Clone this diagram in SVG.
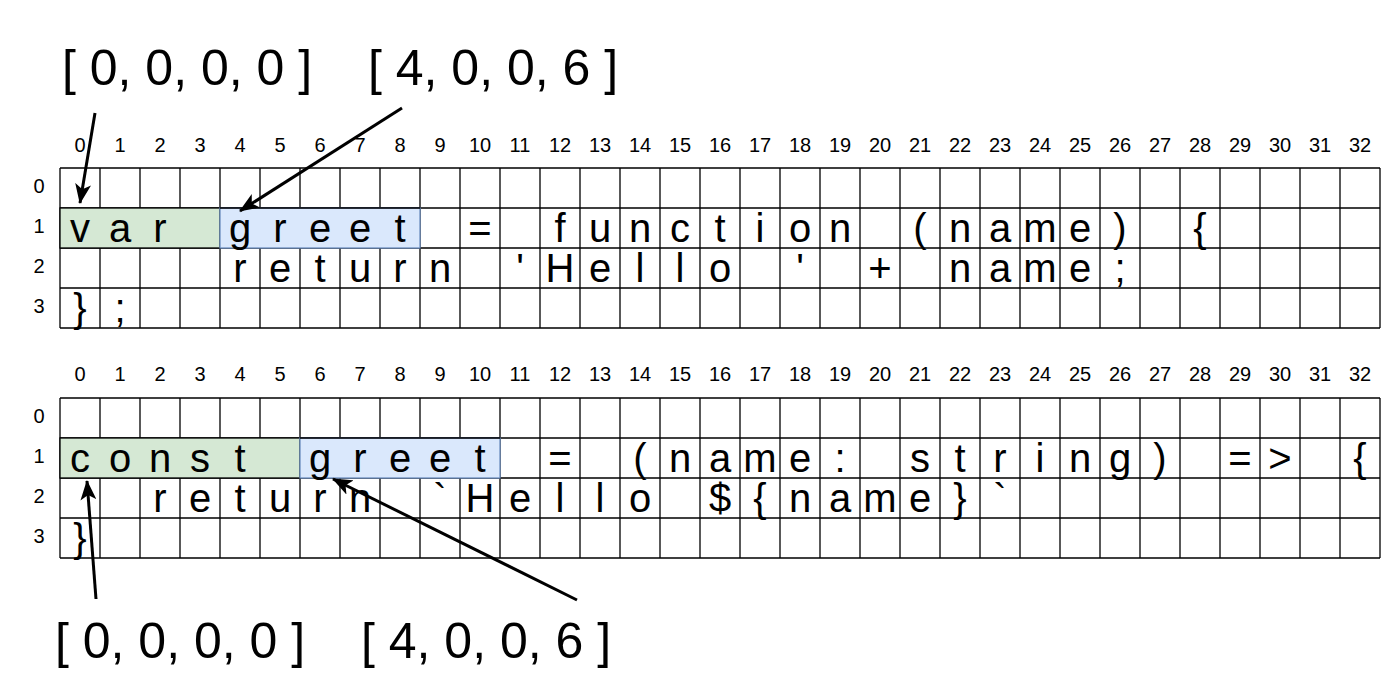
<svg xmlns="http://www.w3.org/2000/svg" width="1400" height="693" viewBox="0 0 1400 693">
<style>
.bg{fill:#fff}
.g{stroke:#000;stroke-width:1.3;fill:none}
.hl-green{fill:#d5e8d4;stroke:#000;stroke-width:1.3}
.hl-blue{fill:#dae8fc;stroke:#6c8ebf;stroke-width:1.3}
.code{font-family:"Liberation Sans",Arial,sans-serif;font-size:40px;fill:#000;text-anchor:middle}
.idx{font-family:"Liberation Sans",Arial,sans-serif;font-size:20px;fill:#000;text-anchor:middle}
.big{font-family:"Liberation Sans",Arial,sans-serif;font-size:50px;fill:#000}
.conn{stroke:#000;stroke-width:3;fill:none;marker-end:url(#arr)}
</style>
<defs>
<marker id="arr" viewBox="0 0 20 16" refX="19" refY="8" markerWidth="20" markerHeight="16" markerUnits="userSpaceOnUse" orient="auto">
<path d="M0,0 L20,8 L0,16 L5,8 z" fill="#000"/>
</marker>
</defs>
<rect class="bg" x="0" y="0" width="1400" height="693"/>

<!-- Top grid -->
<g id="grid-top">
<g id="grid-top-lines" class="g">
<path d="M60,168 H1380 M60,208 H1380 M60,248 H1380 M60,288 H1380 M60,328 H1380"/>
<path d="M60,168 V328 M100,168 V328 M140,168 V328 M180,168 V328 M220,168 V328 M260,168 V328 M300,168 V328 M340,168 V328 M380,168 V328 M420,168 V328 M460,168 V328 M500,168 V328 M540,168 V328 M580,168 V328 M620,168 V328 M660,168 V328 M700,168 V328 M740,168 V328 M780,168 V328 M820,168 V328 M860,168 V328 M900,168 V328 M940,168 V328 M980,168 V328 M1020,168 V328 M1060,168 V328 M1100,168 V328 M1140,168 V328 M1180,168 V328 M1220,168 V328 M1260,168 V328 M1300,168 V328 M1340,168 V328 M1380,168 V328"/>
</g>
<rect id="top-var" class="hl-green" x="60" y="208" width="160" height="40"/>
<rect id="top-greet" class="hl-blue" x="220" y="208" width="200" height="40"/>
<path class="g" d="M220,208 H420"/>
<g id="top-col-labels" class="idx">
<text x="80 120 160 200 240 280 320 360 400 440" y="152">0123456789</text>
<text x="480" y="152">10</text><text x="520" y="152">11</text><text x="560" y="152">12</text><text x="600" y="152">13</text><text x="640" y="152">14</text><text x="680" y="152">15</text><text x="720" y="152">16</text><text x="760" y="152">17</text><text x="800" y="152">18</text><text x="840" y="152">19</text><text x="880" y="152">20</text><text x="920" y="152">21</text><text x="960" y="152">22</text><text x="1000" y="152">23</text><text x="1040" y="152">24</text><text x="1080" y="152">25</text><text x="1120" y="152">26</text><text x="1160" y="152">27</text><text x="1200" y="152">28</text><text x="1240" y="152">29</text><text x="1280" y="152">30</text><text x="1320" y="152">31</text><text x="1360" y="152">32</text>
</g>
<g id="top-row-labels" class="idx">
<text x="39" y="193">0</text><text x="39" y="233">1</text><text x="39" y="273">2</text><text x="39" y="313">3</text>
</g>
<g id="top-code" class="code">
<text x="80 120 160" y="242">var</text>
<text x="240 280 320 360 400" y="242">greet</text>
<text x="480" y="242">=</text>
<text x="560 600 640 680 720 760 800 840" y="242">function</text>
<text x="920 960 1000 1040 1080 1120" y="242">(name)</text>
<text x="1200" y="242">{</text>
<text x="240 280 320 360 400 440" y="282">return</text>
<text x="520 560 600 640 680 720" y="282">'Hello</text>
<text x="800" y="282">'</text>
<text x="880" y="282">+</text>
<text x="960 1000 1040 1080 1120" y="282">name;</text>
<text x="80 120" y="322">};</text>
</g>
</g>

<!-- Bottom grid -->
<g id="grid-bottom">
<g id="grid-bottom-lines" class="g">
<path d="M60,398 H1380 M60,438 H1380 M60,478 H1380 M60,518 H1380 M60,558 H1380"/>
<path d="M60,398 V558 M100,398 V558 M140,398 V558 M180,398 V558 M220,398 V558 M260,398 V558 M300,398 V558 M340,398 V558 M380,398 V558 M420,398 V558 M460,398 V558 M500,398 V558 M540,398 V558 M580,398 V558 M620,398 V558 M660,398 V558 M700,398 V558 M740,398 V558 M780,398 V558 M820,398 V558 M860,398 V558 M900,398 V558 M940,398 V558 M980,398 V558 M1020,398 V558 M1060,398 V558 M1100,398 V558 M1140,398 V558 M1180,398 V558 M1220,398 V558 M1260,398 V558 M1300,398 V558 M1340,398 V558 M1380,398 V558"/>
</g>
<rect id="bottom-const" class="hl-green" x="60" y="438" width="240" height="40"/>
<rect id="bottom-greet" class="hl-blue" x="300" y="438" width="200" height="40"/>
<path class="g" d="M300,438 H500"/>
<g id="bottom-col-labels" class="idx">
<text x="80 120 160 200 240 280 320 360 400 440" y="381">0123456789</text>
<text x="480" y="381">10</text><text x="520" y="381">11</text><text x="560" y="381">12</text><text x="600" y="381">13</text><text x="640" y="381">14</text><text x="680" y="381">15</text><text x="720" y="381">16</text><text x="760" y="381">17</text><text x="800" y="381">18</text><text x="840" y="381">19</text><text x="880" y="381">20</text><text x="920" y="381">21</text><text x="960" y="381">22</text><text x="1000" y="381">23</text><text x="1040" y="381">24</text><text x="1080" y="381">25</text><text x="1120" y="381">26</text><text x="1160" y="381">27</text><text x="1200" y="381">28</text><text x="1240" y="381">29</text><text x="1280" y="381">30</text><text x="1320" y="381">31</text><text x="1360" y="381">32</text>
</g>
<g id="bottom-row-labels" class="idx">
<text x="39" y="423">0</text><text x="39" y="463">1</text><text x="39" y="503">2</text><text x="39" y="543">3</text>
</g>
<g id="bottom-code" class="code">
<text x="80 120 160 200 240" y="472">const</text>
<text x="320 360 400 440 480" y="472">greet</text>
<text x="560" y="472">=</text>
<text x="640 680 720 760 800 840" y="472">(name:</text>
<text x="920 960 1000 1040 1080 1120 1160" y="472">string)</text>
<text x="1240 1280" y="472">=&gt;</text>
<text x="1360" y="472">{</text>
<text x="160 200 240 280 320 360" y="512">return</text>
<text x="440 480 520 560 600 640" y="512">`Hello</text>
<text x="720 760 800 840 880 920 960 1000" y="512">${name}`</text>
<text x="80" y="552">}</text>
</g>
</g>

<!-- Labels -->
<g id="label-top-1"><text class="big" x="62" y="85">[ 0, 0, 0, 0 ]</text></g>
<g id="label-top-2"><text class="big" x="368" y="85">[ 4, 0, 0, 6 ]</text></g>
<g id="label-bottom-1"><text class="big" x="55" y="658">[ 0, 0, 0, 0 ]</text></g>
<g id="label-bottom-2"><text class="big" x="361" y="658">[ 4, 0, 0, 6 ]</text></g>

<!-- Connectors -->
<g id="connectors">
<path class="conn" d="M95,113 L80,203"/>
<path class="conn" d="M402,108 L240,211"/>
<path class="conn" d="M96,599 L87,481"/>
<path class="conn" d="M577,600 L333,479"/>
</g>
</svg>
